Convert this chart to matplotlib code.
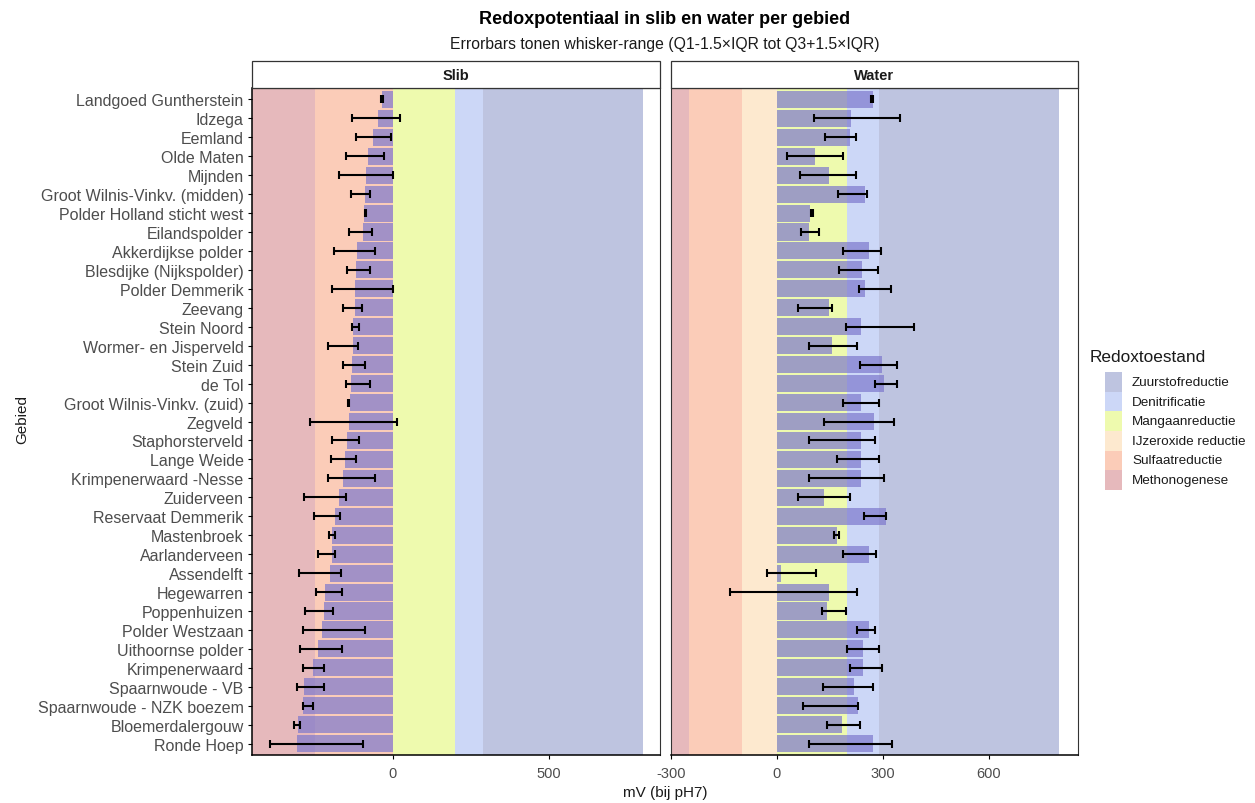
import numpy as np
import matplotlib.pyplot as plt
from matplotlib.patches import Rectangle

plt.rcParams['font.family'] = ['Liberation Sans', 'DejaVu Sans']

# ---------- data (top to bottom as in the chart) ----------
gebieden = [
    "Landgoed Guntherstein", "Idzega", "Eemland", "Olde Maten", "Mijnden",
    "Groot Wilnis-Vinkv. (midden)", "Polder Holland sticht west", "Eilandspolder",
    "Akkerdijkse polder", "Blesdijke (Nijkspolder)", "Polder Demmerik", "Zeevang",
    "Stein Noord", "Wormer- en Jisperveld", "Stein Zuid", "de Tol",
    "Groot Wilnis-Vinkv. (zuid)", "Zegveld", "Staphorsterveld", "Lange Weide",
    "Krimpenerwaard -Nesse", "Zuiderveen", "Reservaat Demmerik", "Mastenbroek",
    "Aarlanderveen", "Assendelft", "Hegewarren", "Poppenhuizen", "Polder Westzaan",
    "Uithoornse polder", "Krimpenerwaard", "Spaarnwoude - VB",
    "Spaarnwoude - NZK boezem", "Bloemerdalergouw", "Ronde Hoep",
]

slib_val = [-35, -49, -65, -81, -86, -89, -92, -96, -116, -120, -123, -123,
            -127, -127, -130, -134, -139, -142, -148, -154, -160, -173, -186,
            -197, -197, -201, -219, -221, -227, -239, -255, -285, -289, -305, -308]
slib_lo = [-38, -132, -117, -150, -173, -134, -90, -142, -190, -146, -194, -160,
           -132, -208, -159, -152, -143, -266, -194, -198, -208, -285, -252,
           -205, -239, -301, -248, -283, -287, -297, -289, -308, -289, -316, -395]
slib_hi = [-33, 22, -5, -28, 0, -74, -88, -67, -59, -74, 0, -98,
           -109, -112, -89, -74, -141, 13, -109, -117, -59, -150, -171,
           -185, -185, -166, -163, -193, -89, -163, -220, -221, -258, -299, -96]

water_val = [271, 210, 206, 108, 148, 249, 95, 90, 260, 242, 251, 148,
             237, 157, 298, 304, 237, 274, 237, 237, 237, 134, 308, 171,
             262, 11, 147, 141, 262, 243, 243, 218, 231, 185, 272]
water_lo = [268, 106, 135, 28, 66, 174, 97, 69, 188, 177, 232, 59,
            195, 92, 236, 278, 188, 133, 91, 169, 90, 60, 246, 163,
            187, -29, -134, 129, 226, 199, 208, 130, 73, 141, 90]
water_hi = [273, 349, 224, 188, 224, 254, 101, 118, 295, 285, 324, 157,
            389, 228, 340, 339, 288, 332, 278, 289, 303, 207, 310, 177,
            281, 112, 227, 196, 278, 289, 299, 273, 231, 236, 327]

# redox zones (legend order)
zone_names = ["Zuurstofreductie", "Denitrificatie", "Mangaanreductie",
              "IJzeroxide reductie", "Sulfaatreductie", "Methonogenese"]
zone_colors = ["#bec4e0", "#ccd7f7", "#eefaae", "#fde9cf", "#fbccb8", "#e6b9bc"]
# zone limits per panel (mV)
slib_zone_lo = [290, 200, 0, 0, -250, -1000]
slib_zone_hi = [800, 290, 200, 0, 0, -250]
water_zone_lo = [290, 200, 0, -100, -250, -1000]
water_zone_hi = [800, 290, 200, 0, -100, -250]

bar_color = "#7d78cd"

fig = plt.figure(figsize=(12.55, 8.04), dpi=100)
W, H = 1255, 804


def fx(px):
    return px / W


def fy(py):
    return 1 - py / H


panel_top, panel_bot = 89, 756
ax1 = fig.add_axes([fx(252), fy(panel_bot), fx(660 - 252), (panel_bot - panel_top) / H])
ax2 = fig.add_axes([fx(671), fy(panel_bot), fx(1078 - 671), (panel_bot - panel_top) / H])

n = len(gebieden)
y = np.arange(n)[::-1]

panels = [
    (ax1, slib_val, slib_lo, slib_hi, slib_zone_lo, slib_zone_hi,
     (-452, 856), [0, 500], "Slib", 252, 660),
    (ax2, water_val, water_lo, water_hi, water_zone_lo, water_zone_hi,
     (-300, 853), [-300, 0, 300, 600], "Water", 671, 1078),
]

for ax, val, lo, hi, zlo, zhi, xlim, ticks, name, x0, x1 in panels:
    for zl, zh, zc in zip(zlo, zhi, zone_colors):
        if zh > zl:
            ax.axvspan(max(zl, xlim[0]), zh, color=zc, lw=0, zorder=0)
    ax.barh(y, val, height=0.9, color=bar_color, alpha=0.7, lw=0, zorder=2)
    lo = np.array(lo, dtype=float)
    hi = np.array(hi, dtype=float)
    mid = (lo + hi) / 2
    ax.errorbar(mid, y, xerr=[mid - lo, hi - mid], fmt='none',
                ecolor='black', elinewidth=1.5, capsize=2.8, capthick=1.5, zorder=3)
    ax.set_xlim(*xlim)
    ax.set_ylim(-0.6, n - 0.4)
    ax.set_xticks(ticks)
    ax.set_xticklabels([str(t) for t in ticks])
    ax.tick_params(axis='x', length=3, width=0.8, colors='black', labelcolor='#4d4d4d',
                   labelsize=10.5, pad=5)
    for s in ['top', 'right']:
        ax.spines[s].set_color('#333333')
        ax.spines[s].set_linewidth(0.8)
    ax.spines['bottom'].set_linewidth(1.1)
    ax.spines['left'].set_linewidth(1.1 if ax is ax1 else 0.8)
    ax.spines['left'].set_color('black' if ax is ax1 else '#333333')

    # facet strip
    strip = Rectangle((fx(x0), fy(panel_top)), fx(x1 - x0), 27 / H,
                      transform=fig.transFigure, facecolor='white',
                      edgecolor='#333333', lw=0.9)
    fig.add_artist(strip)
    fig.text(fx((x0 + x1) / 2), fy(panel_top - 13.5), name, ha='center', va='center',
             fontsize=10.5, fontweight='bold', color='#1a1a1a')

ax1.set_yticks(y)
ax1.set_yticklabels(gebieden)
ax1.tick_params(axis='y', length=3, width=0.8, labelcolor='#4d4d4d', labelsize=11.5, pad=3)
ax2.set_yticks([])

fig.text(fx(665), fy(20), "Redoxpotentiaal in slib en water per gebied", ha='center',
         va='center', fontsize=13, fontweight='bold')
fig.text(fx(665), fy(44), "Errorbars tonen whisker-range (Q1-1.5×IQR tot Q3+1.5×IQR)",
         ha='center', va='center', fontsize=11.3, color='#1a1a1a')
fig.text(fx(665), fy(793), "mV (bij pH7)", ha='center', va='center', fontsize=11,
         color='#1a1a1a')
fig.text(fx(22), fy(420), "Gebied", ha='center', va='center', rotation=90,
         fontsize=11, color='#1a1a1a')

# legend
fig.text(fx(1090), fy(358), "Redoxtoestand", ha='left', va='center', fontsize=12.4,
         color='#1a1a1a')
key_h = 19.6
for i, (zn, zc) in enumerate(zip(zone_names, zone_colors)):
    yc = 383 + i * key_h
    fig.add_artist(Rectangle((fx(1105), fy(yc + key_h / 2)), fx(17), key_h / H,
                             transform=fig.transFigure, facecolor=zc, lw=0))
    fig.text(fx(1132), fy(yc), zn, ha='left', va='center', fontsize=9.7, color='#1a1a1a')

fig.savefig("out.png", dpi=100)
